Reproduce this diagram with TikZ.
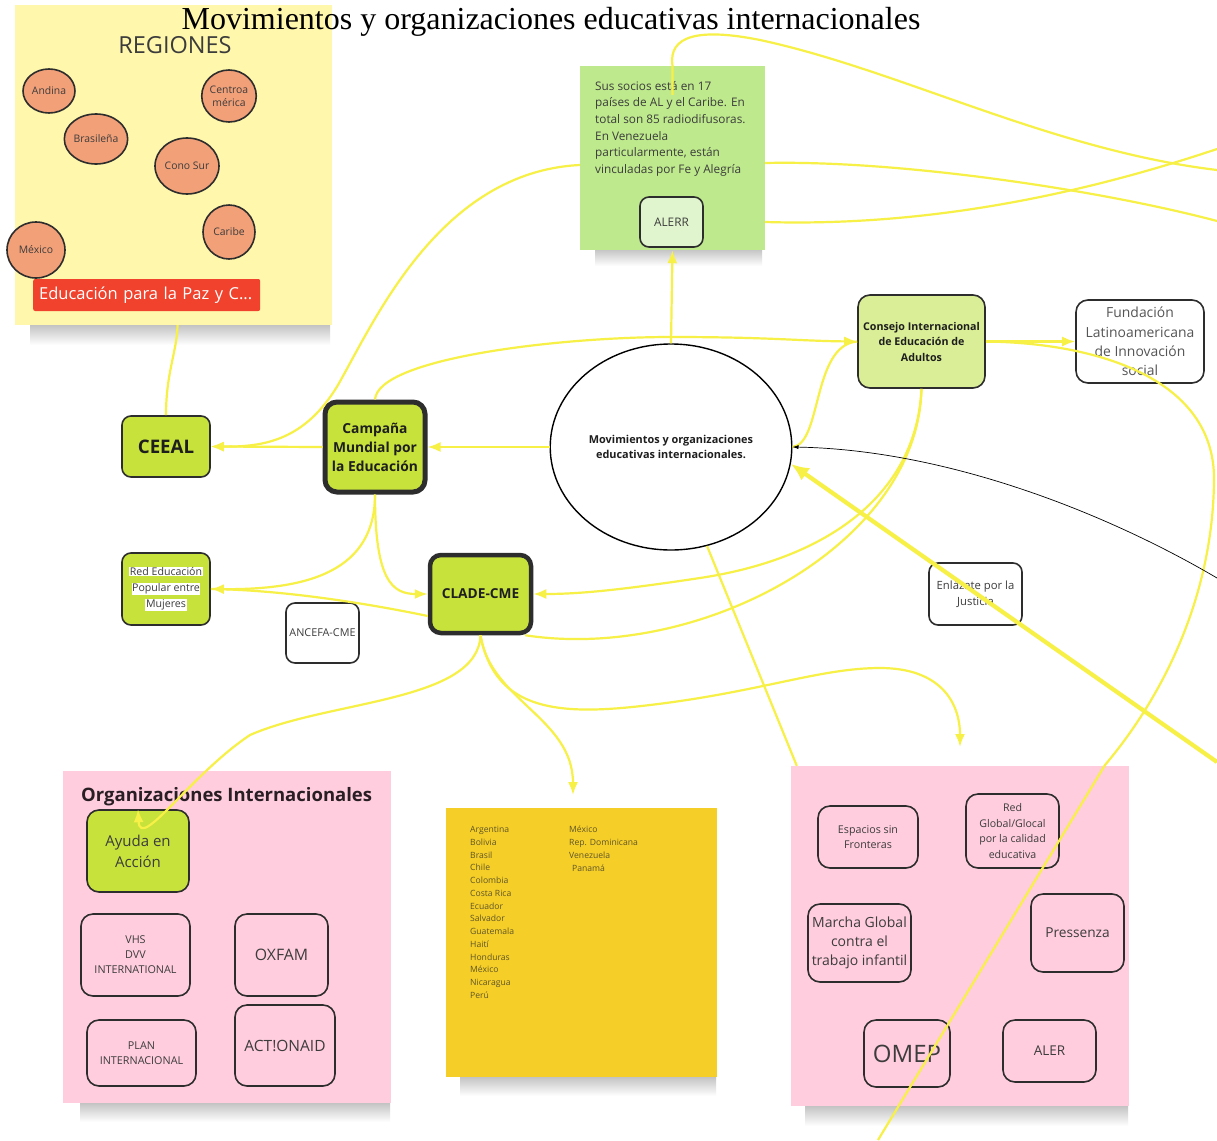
\documentclass[tikz,border=0pt]{standalone}
\usepackage{fontspec}
\setmainfont{Open Sans}
\newfontfamily\titlefont{Liberation Serif}
\usetikzlibrary{shapes.geometric,arrows.meta}
\definecolor{ylw}{RGB}{247,240,70}
\definecolor{limeF}{RGB}{200,226,60}
\definecolor{consF}{RGB}{217,238,150}
\definecolor{alerrG}{RGB}{190,233,140}
\definecolor{alerrIn}{RGB}{224,245,205}
\definecolor{regY}{RGB}{255,247,172}
\definecolor{orangeC}{RGB}{242,160,120}
\definecolor{redB}{RGB}{240,66,45}
\definecolor{pinkS}{RGB}{255,205,222}
\definecolor{goldS}{RGB}{245,206,40}
\definecolor{lineD}{RGB}{45,45,45}
\definecolor{txtD}{RGB}{60,60,60}
\definecolor{txtB}{RGB}{30,30,30}
\definecolor{txtG}{RGB}{85,85,85}
\definecolor{orgTC}{RGB}{40,30,35}
\definecolor{listT}{RGB}{95,85,40}
\newcommand\fz[2]{\fontsize{#1}{#2}\selectfont}
\newcommand\hlw[1]{{\setlength{\fboxsep}{0.6pt}\colorbox{white}{#1}}}
\begin{document}
\begin{tikzpicture}[x=1pt,y=-1pt,
  box/.style={draw=lineD, line width=1.6pt, rounded corners=9pt, align=center, text=txtD, inner sep=1pt},
  limebox/.style={box, fill=limeF, text=txtB},
  sticky/.style={draw=none, inner sep=0pt},
  circ/.style={ellipse, draw=lineD, line width=1.6pt, fill=orangeC, inner sep=0pt, text=txtD, align=center, font=\fz{10.4}{13}},
  yl/.style={draw=ylw, line width=2.2pt},
  arr/.style={-{Latex[length=13pt,width=10pt]}},
  shadowbar/.style={top color=black!32, bottom color=white, draw=none},
]
\useasboundingbox (0,0) rectangle (1217,1140);
\fill[white] (0,0) rectangle (1217,1140);

% ---------- shadows ----------
\shade[shadowbar] (30,318) rectangle (330,345);
\shade[shadowbar] (595,243) rectangle (762,266);
\shade[shadowbar] (80,1096) rectangle (390,1122);
\shade[shadowbar] (460,1070) rectangle (716,1096);
\shade[shadowbar] (805,1099) rectangle (1128,1126);

% ---------- stickies ----------
\node[sticky, fill=regY, minimum width=317pt, minimum height=320pt] (regS) at (173.5,165) {};
\node[sticky, fill=alerrG, minimum width=185pt, minimum height=184pt] (alS) at (672.5,158) {};
\node[sticky, fill=pinkS, minimum width=328pt, minimum height=332pt] (pinkL) at (227,937) {};
\node[sticky, fill=goldS, minimum width=271pt, minimum height=269pt] (gold) at (581.5,942.5) {};
\node[sticky, fill=pinkS, minimum width=338pt, minimum height=340pt] (pinkR) at (960,936) {};

% ---------- REGIONES ----------
\node[text=txtD, font=\fz{23.5}{26}] (regT) at (175,45) {REGIONES};
\node[circ, minimum width=52pt, minimum height=44pt] (andina) at (49,91) {Andina};
\node[circ, minimum width=52pt, minimum height=52pt] (centro) at (229,96) {Centroa\\mérica};
\node[circ, minimum width=62pt, minimum height=50pt] (brasil) at (96,139) {Brasileña};
\node[circ, minimum width=64pt, minimum height=56pt] (cono) at (187,166) {Cono Sur};
\node[circ, minimum width=52pt, minimum height=54pt] (caribe) at (229,232) {Caribe};
\node[circ, minimum width=58pt, minimum height=56pt] (mexico) at (36,250) {México};
\node[fill=redB, rounded corners=2pt, text width=215pt, inner xsep=6pt, inner ysep=0pt, minimum height=32pt, anchor=west, align=left, text=white, font=\fz{16.5}{19}] (edupaz) at (33,295) {Educación para la Paz y C...};

% ---------- ALERR sticky ----------
\node[anchor=north west, align=left, inner sep=0pt, text=txtD, font=\fz{11.8}{16.6}] (alText) at (595,81) {Sus socios está en 17\\países de AL y el Caribe. En\\total son 85 radiodifusoras.\\En Venezuela\\particularmente, están\\vinculadas por Fe y Alegría};
\node[box, fill=alerrIn, minimum width=63pt, minimum height=50pt, font=\fz{11.8}{14}] (alerr) at (671.5,222) {ALERR};

% ---------- main nodes ----------
\node[ellipse, draw=black, line width=1.4pt, fill=white, minimum width=240pt, minimum height=206pt, align=center, text=txtB, font=\bfseries\fz{10.9}{15}] (ell) at (671,447) {Movimientos y organizaciones\\educativas internacionales.};
\node[limebox, minimum width=88pt, minimum height=61pt, font=\bfseries\fz{18.7}{22}] (ceeal) at (166,446.5) {CEEAL};
\node[limebox, line width=5pt, rounded corners=12pt, minimum width=100pt, minimum height=90pt, font=\bfseries\fz{13.8}{19}] (camp) at (375,447) {Campaña\\Mundial por\\la Educación};
\node[limebox, minimum width=88pt, minimum height=72pt, font=\fz{10.6}{16}, text=txtD] (redEd) at (166,589) {\hlw{Red Educación}\\\hlw{Popular entre}\\\hlw{Mujeres}};
\node[box, fill=white, minimum width=73pt, minimum height=60pt, font=\fz{10.8}{13}] (ancefa) at (322.5,633) {ANCEFA-CME};
\node[limebox, line width=4.5pt, rounded corners=11pt, minimum width=101pt, minimum height=78pt, font=\bfseries\fz{13.7}{16}] (clade) at (480.5,594) {CLADE-CME};
\node[box, fill=consF, rounded corners=12pt, minimum width=127pt, minimum height=93pt, text=txtB, font=\bfseries\fz{10.7}{15.5}] (cons) at (921.5,341.5) {Consejo Internacional\\de Educación de\\Adultos};
\node[box, fill=white, rounded corners=12pt, minimum width=128pt, minimum height=83pt, text=txtG, font=\fz{13.9}{19.3}] (fund) at (1140,341.5) {Fundación\\Latinoamericana\\de Innovación\\social};
\node[box, fill=white, minimum width=93pt, minimum height=62pt, font=\fz{11.3}{16}] (enlaz) at (975.5,594) {Enlázate por la\\Justicia};

% ---------- Organizaciones Internacionales ----------
\node[anchor=west, inner sep=0pt, text=orgTC, font=\bfseries\fz{18.5}{22}] (orgT) at (81,797) {Organizaciones Internacionales};
\node[limebox, rounded corners=12pt, minimum width=102pt, minimum height=82pt, text=txtD, font=\fz{15}{21}] (ayuda) at (138,851) {Ayuda en\\Acción};
\node[box, rounded corners=12pt, minimum width=109pt, minimum height=82pt, font=\fz{10.8}{15}] (vhs) at (135.5,955) {VHS\\DVV\\INTERNATIONAL};
\node[box, rounded corners=12pt, minimum width=93pt, minimum height=82pt, font=\fz{15.8}{18}] (oxfam) at (281.5,955) {OXFAM};
\node[box, rounded corners=12pt, minimum width=109pt, minimum height=66pt, font=\fz{10.8}{15}] (plan) at (141.5,1053) {PLAN\\INTERNACIONAL};
\node[box, rounded corners=12pt, minimum width=100pt, minimum height=81pt, font=\fz{15.5}{18}] (actaid) at (285,1045.5) {ACT!ONAID};

% ---------- country list ----------
\node[anchor=north west, align=left, inner sep=0pt, text=listT, font=\fz{8.6}{12.77}] (list1) at (470,826) {Argentina\\Bolivia\\Brasil\\Chile\\Colombia\\Costa Rica\\Ecuador\\Salvador\\Guatemala\\Haití\\Honduras\\México\\Nicaragua\\Perú};
\node[anchor=north west, align=left, inner sep=0pt, text=listT, font=\fz{8.6}{12.77}] (list2) at (569,826) {México\\Rep. Dominicana\\Venezuela\\\hspace{3pt}Panamá};

% ---------- right pink ----------
\node[box, rounded corners=12pt, minimum width=100pt, minimum height=62pt, font=\fz{10.7}{15.5}] (espacios) at (868,837) {Espacios sin\\Fronteras};
\node[box, rounded corners=12pt, minimum width=93pt, minimum height=74pt, font=\fz{10.6}{15.7}] (redglob) at (1012.5,831) {Red\\Global/Glocal\\por la calidad\\educativa};
\node[box, rounded corners=12pt, minimum width=103pt, minimum height=78pt, font=\fz{14}{19}] (marcha) at (859.5,943) {Marcha Global\\contra el\\trabajo infantil};
\node[box, rounded corners=12pt, minimum width=93pt, minimum height=78pt, font=\fz{13.7}{17}] (pressenza) at (1077.5,933) {Pressenza};
\node[box, rounded corners=12pt, minimum width=86pt, minimum height=67pt, font=\fz{24}{28}] (omep) at (907,1053.5) {OMEP};
\node[box, rounded corners=12pt, minimum width=93pt, minimum height=62pt, font=\fz{13.5}{16}] (aler) at (1049.5,1051) {ALER};

% ---------- free end coordinates ----------
\coordinate (offTR1) at (1217,170);
\coordinate (offTR2) at (1217,221);
\coordinate (offTR3) at (1217,149);
\coordinate (offR) at (1217,578);
\coordinate (offR2) at (1217,762);
\coordinate (offB) at (878,1140);
\coordinate (goldIn) at (573,795);
\coordinate (pinkIn) at (960,747);

% ---------- connectors ----------
\draw[yl,arr] (ell.west) -- (camp.east);
\draw[yl,arr] (camp.west) -- (ceeal.east);
\draw[yl] (ceeal.north) .. controls (166,372) and (177,352) .. ([xshift=4pt]regS.south);
\draw[yl,arr] ([yshift=-7pt]alS.west) .. controls (440,172) and (375,320) .. (338,385) .. controls (305,440) and (265,447) .. (ceeal.east);
\draw[yl,arr] (camp.north) .. controls (378,358) and (560,337) .. (671,337) .. controls (770,337) and (800,341) .. (cons.west);
\draw[yl] (ell.east) .. controls (822,444) and (812,345) .. (cons.west);
\draw[yl,arr] (ell.north) -- (alS.south);
\draw[yl,arr] (cons.east) -- (fund.west);
\draw[yl] (cons.east) .. controls (1100,343) and (1215,380) .. (1214,480) .. controls (1213,600) and (1160,700) .. (1105,765) -- (offB);
\draw[yl,arr] (cons.south) .. controls (916,500) and (820,560) .. (700,578) .. controls (620,590) and (580,594) .. (clade.east);
\draw[yl] ([xshift=-8pt]clade.south east) .. controls (700,662) and (918,545) .. (cons.south);
\draw[yl,arr] (camp.south) .. controls (375,580) and (392,594) .. (clade.west);
\draw[yl,arr] (camp.south) .. controls (375,570) and (310,590) .. (redEd.east);
\draw[yl] ([yshift=-22pt]clade.west) .. controls (380,606) and (290,590) .. (redEd.east);
\draw[yl] (ell.290) -- ([xshift=6pt]pinkR.north west);
\draw[yl,arr] (clade.south) .. controls (478,702) and (330,700) .. (250,735) .. controls (190,775) and (140,852) .. (ayuda.north);
\draw[yl,arr] (clade.south) .. controls (490,700) and (573,718) .. (goldIn);
\draw[yl,arr] (clade.south) .. controls (495,712) and (560,716) .. (650,705) .. controls (760,692) and (820,668) .. (880,668) .. controls (940,668) and (960,702) .. (pinkIn);
\draw[yl] ([yshift=-29pt]alS.north) -- (alS.north) .. controls (668,35) and (700,28) .. (760,40) .. controls (900,70) and (1050,150) .. (offTR1);
\draw[yl] ([yshift=-5pt]alS.east) .. controls (900,160) and (1100,190) .. (offTR2);
\draw[yl] ([yshift=-64pt]alS.east) .. controls (900,226) and (1050,205) .. (offTR3);
\draw[black, line width=0.7pt, -{Latex[length=6pt,width=4pt]}] (offR) .. controls (1110,515) and (950,450) .. (ell.east);
\draw[ylw, line width=4.2pt, -{Latex[length=18pt,width=15pt]}] (offR2) -- (ell.-8);

% ---------- title ----------
\node[text=black, font=\titlefont\fz{32}{36}, inner sep=0pt] (title) at (551,22) {Movimientos y organizaciones educativas internacionales};
\end{tikzpicture}
\end{document}
